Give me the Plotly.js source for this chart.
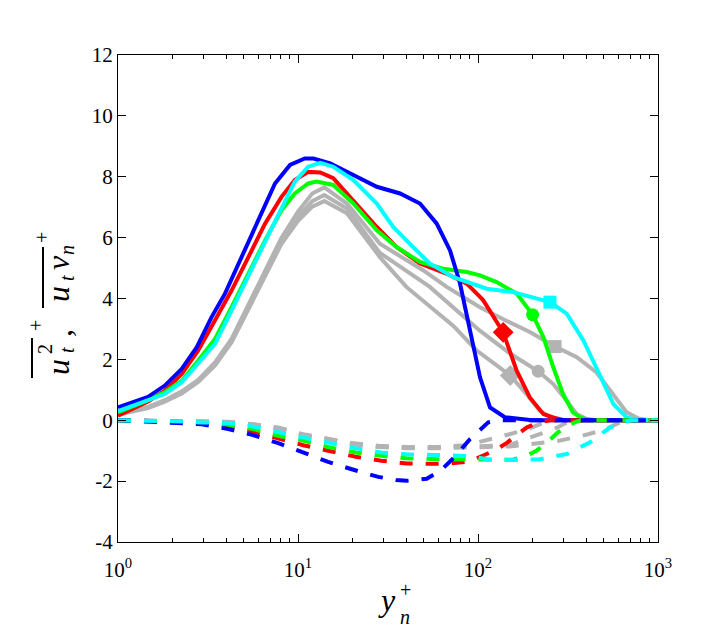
<!DOCTYPE html>
<html>
<head>
<meta charset="utf-8">
<script src="https://cdn.plot.ly/plotly-3.0.1.min.js"></script>
<style>
  html, body { margin: 0; padding: 0; background: #fff; }
  #plot { width: 706px; height: 628px; }
</style>
</head>
<body>
<div id="plot"></div>
<script>
// u_t^2 (solid) curves
const blueX = [1, 1.47, 1.82, 2.26, 2.74, 3.31, 3.93, 4.76, 5.77, 7.45, 9.03, 10.9, 12.2, 15.1, 20.3, 27.4, 36.9, 47.6, 59, 69.9, 79.4, 90.3, 102.6, 116.6, 141, 200, 1000];
const blueY = [0.42, 0.77, 1.14, 1.69, 2.40, 3.39, 4.16, 5.26, 6.35, 7.78, 8.39, 8.6, 8.6, 8.44, 8.06, 7.67, 7.45, 7.12, 6.46, 5.58, 4.5, 2.95, 1.41, 0.42, 0.1, 0, 0];

const redX = [1, 1.47, 1.82, 2.26, 2.79, 3.46, 4.28, 5.3, 6.56, 8.1, 9.6, 11.4, 13.3, 15.7, 20.3, 27.4, 35.3, 47.6, 66.7, 86.6, 100.7, 107, 138, 164, 194, 231, 262, 300, 1000];
const redY = [0.15, 0.62, 0.97, 1.52, 2.29, 3.28, 4.27, 5.36, 6.46, 7.34, 7.89, 8.16, 8.14, 7.95, 7.23, 6.35, 5.69, 5.15, 4.82, 4.49, 4.1, 3.94, 2.89, 1.63, 0.75, 0.2, 0.09, 0, 0];

const greenX = [1, 1.47, 1.82, 2.26, 2.79, 3.46, 4.28, 5.3, 6.56, 8.1, 9.6, 11.4, 12.7, 15.7, 20.3, 27.4, 35.3, 47.6, 64, 86.6, 102.6, 127, 164, 201, 231, 262, 297, 337, 370, 420, 1000];
const greenY = [0.26, 0.66, 0.92, 1.3, 1.96, 2.67, 3.72, 4.82, 5.91, 6.9, 7.45, 7.78, 7.84, 7.73, 7.12, 6.24, 5.69, 5.2, 4.98, 4.87, 4.76, 4.54, 4.16, 3.47, 2.73, 1.74, 0.86, 0.26, 0.09, 0, 0];

const cyanX = [1, 1.47, 1.82, 2.26, 2.79, 3.46, 4.28, 5.3, 6.56, 8.1, 9.6, 11.4, 13.3, 15.7, 20.3, 27.4, 33.8, 43.6, 54, 73, 94, 112, 157, 251, 311, 385, 472, 565, 670, 750, 1000];
const cyanY = [0.3, 0.64, 0.86, 1.25, 1.85, 2.51, 3.61, 4.7, 5.86, 6.96, 7.84, 8.33, 8.46, 8.33, 7.89, 7.12, 6.35, 5.69, 5.15, 4.7, 4.49, 4.32, 4.21, 3.88, 3.5, 2.62, 1.52, 0.53, 0.09, 0.02, 0];

const graySqX = [1, 1.47, 1.82, 2.26, 2.79, 3.46, 4.28, 5.3, 6.56, 8.1, 10, 12, 14, 18.7, 28.5, 49.5, 67, 102, 140, 194, 268, 354, 456, 565, 670, 780, 900, 1000];
const graySqY = [0.22, 0.44, 0.66, 0.95, 1.33, 1.9, 2.68, 3.78, 4.9, 6.0, 6.85, 7.45, 7.65, 7.12, 5.8, 4.93, 4.38, 3.72, 3.3, 2.9, 2.42, 2.07, 1.57, 0.86, 0.26, 0.06, 0, 0];

const grayCiX = [1, 1.47, 1.82, 2.26, 2.79, 3.46, 4.28, 5.3, 6.56, 8.1, 10, 12, 14, 18.7, 28.5, 54, 102, 150, 216, 262, 311, 354, 400, 450, 1000];
const grayCiY = [0.2, 0.42, 0.64, 0.92, 1.3, 1.85, 2.62, 3.72, 4.82, 5.91, 6.68, 7.2, 7.4, 6.96, 5.5, 4.38, 2.95, 2.2, 1.61, 1.19, 0.64, 0.2, 0.05, 0, 0];

const grayDiX = [1, 1.47, 1.82, 2.26, 2.79, 3.46, 4.28, 5.3, 6.56, 8.1, 10, 12, 14, 18.7, 28.5, 40, 73, 98, 151, 186, 220, 262, 300, 1000];
const grayDiY = [0.18, 0.4, 0.61, 0.88, 1.26, 1.8, 2.56, 3.64, 4.72, 5.8, 6.55, 7.02, 7.2, 6.8, 5.36, 4.38, 3.1, 2.3, 1.47, 0.86, 0.31, 0.05, 0, 0];

// u_t v_n (dashed) curves
const blueDX = [1, 1.47, 2.0, 2.92, 4.1, 5.64, 7.77, 10.7, 14.7, 19.9, 27.9, 35, 40.2, 51.9, 61.8, 73.5, 90.2, 114, 130, 1000];
const blueDY = [0, -0.04, -0.06, -0.13, -0.29, -0.49, -0.75, -1.06, -1.37, -1.61, -1.86, -1.96, -1.99, -1.92, -1.66, -1.23, -0.62, -0.07, 0, 0];

const redDX = [1, 1.47, 2.0, 2.92, 4.1, 5.64, 7.77, 10.7, 14.7, 20.9, 29, 40.2, 55, 70, 90, 106.7, 125, 144, 165, 186, 220, 251, 1000];
const redDY = [0, -0.02, -0.04, -0.09, -0.2, -0.37, -0.59, -0.82, -1.0, -1.2, -1.33, -1.42, -1.43, -1.42, -1.35, -1.17, -0.98, -0.75, -0.48, -0.24, -0.06, 0, 0];

const greenDX = [1, 1.47, 2.0, 2.92, 4.1, 5.64, 7.77, 10.7, 14.7, 20.9, 29, 40.2, 60, 90, 120, 154, 185, 211, 240, 274, 310, 370, 1000];
const greenDY = [0, -0.02, -0.04, -0.08, -0.15, -0.29, -0.51, -0.67, -0.88, -1.06, -1.17, -1.25, -1.28, -1.3, -1.32, -1.3, -1.18, -1.0, -0.75, -0.43, -0.18, 0, 0];

const cyanDX = [1, 1.47, 2.0, 2.92, 4.1, 5.64, 7.77, 10.7, 14.7, 20.9, 29, 40.2, 60, 90, 112, 157, 220, 311, 417, 540, 700, 1000];
const cyanDY = [0, -0.01, -0.03, -0.07, -0.09, -0.21, -0.4, -0.57, -0.73, -0.92, -1.06, -1.12, -1.14, -1.18, -1.28, -1.31, -1.28, -1.11, -0.73, -0.24, 0, 0];

const grayDaX = [1, 2.0, 2.92, 4.1, 5.64, 7.77, 10.7, 14.7, 20, 28, 40, 60, 86, 127, 186, 235, 260, 1000];
const grayDaY = [0, -0.02, -0.04, -0.05, -0.13, -0.24, -0.46, -0.6, -0.75, -0.84, -0.88, -0.88, -0.82, -0.57, -0.31, -0.07, 0, 0];
const grayDbX = [1, 2.0, 2.92, 4.1, 5.64, 7.77, 10.7, 14.7, 20, 28, 40, 60, 100, 150, 189, 265, 330, 1000];
const grayDbY = [0, -0.02, -0.04, -0.06, -0.14, -0.26, -0.48, -0.62, -0.77, -0.86, -0.9, -0.9, -0.86, -0.82, -0.59, -0.29, 0, 0];
const grayDcX = [1, 2.0, 2.92, 4.1, 5.64, 7.77, 10.7, 14.7, 20, 28, 40, 60, 100, 150, 278, 380, 506, 613, 700, 1000];
const grayDcY = [0, -0.02, -0.04, -0.06, -0.15, -0.27, -0.5, -0.64, -0.79, -0.88, -0.92, -0.92, -0.9, -0.86, -0.68, -0.51, -0.31, -0.07, 0, 0];

// markers
const markRed = [138, 2.89], markGreen = [201, 3.47], markCyan = [251, 3.88];
const markGrayDi = [151, 1.47], markGrayCi = [216, 1.61], markGraySq = [268, 2.42];

const BLUE = '#0000ff', RED = '#ff0000', GREEN = '#00ff00', CYAN = '#00ffff', GRAY = '#b3b3b3';
const DASH = '13px,13px';

function line(x, y, color, dash) {
  return {x: x, y: y, type: 'scatter', mode: 'lines', hoverinfo: 'skip',
          line: {color: color, width: 4, dash: dash || 'solid'}};
}
function mark(p, color, symbol, size) {
  return {x: [p[0]], y: [p[1]], type: 'scatter', mode: 'markers', hoverinfo: 'skip',
          marker: {color: color, symbol: symbol, size: size, line: {width: 0}}};
}

const data = [
  line(graySqX, graySqY, GRAY), line(grayCiX, grayCiY, GRAY), line(grayDiX, grayDiY, GRAY),
  line(grayDaX, grayDaY, GRAY, DASH), line(grayDbX, grayDbY, GRAY, DASH), line(grayDcX, grayDcY, GRAY, DASH),
  mark(markGrayDi, GRAY, 'diamond', 16), mark(markGrayCi, GRAY, 'circle', 13), mark(markGraySq, GRAY, 'square', 13),
  line(redX, redY, RED), line(greenX, greenY, GREEN), line(blueX, blueY, BLUE), line(cyanX, cyanY, CYAN),
  line(redDX, redDY, RED, DASH), line(greenDX, greenDY, GREEN, DASH), line(blueDX, blueDY, BLUE, DASH), line(cyanDX, cyanDY, CYAN, DASH),
  mark(markRed, RED, 'diamond', 16), mark(markGreen, GREEN, 'circle', 13), mark(markCyan, CYAN, 'square', 13)
];

// plot area in pixels: left 118, right 658, top 55, bottom 542
const L = 118, R = 658, T = 55, B = 542;
function px(x) { return (x - L) / (R - L); }
function py(y) { return (B - y) / (B - T); }

const SERIF = 'Liberation Serif, Times New Roman, serif';
const mathFont = {family: SERIF, size: 32, color: '#000'};
const smallFont = {family: SERIF, size: 20, color: '#000'};

function ann(text, x, y, font, angle) {
  return {text: text, x: px(x), y: py(y), xref: 'paper', yref: 'paper', showarrow: false,
          xanchor: 'center', yanchor: 'middle', font: font, textangle: angle || 0};
}

const annotations = [
  // x label  y_n^+
  ann('<i>y</i>', 387, 600, mathFont),
  ann('<i>n</i>', 405, 617, smallFont),
  ann('+', 405, 590, smallFont),
  // y label  overline(u_t^2)^+ , overline(u_t v_n)^+
  ann('<i>u</i>', 58, 367, mathFont, -90),
  ann('<i>t</i>', 67, 350, smallFont, -90),
  ann('2', 45, 349, smallFont, -90),
  ann('+', 36, 326, smallFont, -90),
  ann(',', 60, 333, mathFont, -90),
  ann('<i>u</i>', 58, 294, mathFont, -90),
  ann('<i>t</i>', 67, 278, smallFont, -90),
  ann('<i>v</i>', 58, 263, mathFont, -90),
  ann('<i>n</i>', 67, 250, smallFont, -90),
  ann('+', 42, 238, smallFont, -90)
];

const shapes = [
  {type: 'line', xref: 'paper', yref: 'paper', x0: px(32), x1: px(32), y0: py(338), y1: py(378), line: {color: '#000', width: 2}},
  {type: 'line', xref: 'paper', yref: 'paper', x0: px(43), x1: px(43), y0: py(247), y1: py(308), line: {color: '#000', width: 2}}
];

const minorX = [];
[1, 10, 100].forEach(function (d) { for (let k = 2; k <= 9; k++) minorX.push(k * d); });

const tickFont = {family: SERIF, size: 21, color: '#000'};

const layout = {
  width: 706, height: 628,
  margin: {l: L, r: 706 - R, t: T, b: 628 - B},
  paper_bgcolor: '#fff', plot_bgcolor: '#fff',
  showlegend: false,
  xaxis: {
    type: 'log', range: [0, 3],
    tickvals: [1, 10, 100, 1000],
    ticktext: ['10<sup>0</sup>', '10<sup>1</sup>', '10<sup>2</sup>', '10<sup>3</sup>'],
    ticks: 'inside', ticklen: 8, tickcolor: '#000', tickwidth: 1,
    ticklabelstandoff: 9,
    minor: {tickvals: minorX, ticks: 'inside', ticklen: 4, tickcolor: '#000', showgrid: false},
    showline: true, linecolor: '#000', linewidth: 1, mirror: 'allticks',
    showgrid: false, zeroline: false, tickfont: tickFont
  },
  yaxis: {
    range: [-4, 12],
    tickvals: [-4, -2, 0, 2, 4, 6, 8, 10, 12],
    ticktext: ['-4', '-2', '0', '2', '4', '6', '8', '10', '12'],
    ticks: 'inside', ticklen: 8, tickcolor: '#000', tickwidth: 1,
    showline: true, linecolor: '#000', linewidth: 1, mirror: 'allticks',
    showgrid: false, zeroline: false, tickfont: tickFont
  },
  annotations: annotations,
  shapes: shapes
};

Plotly.newPlot('plot', data, layout, {staticPlot: true});
</script>
</body>
</html>
